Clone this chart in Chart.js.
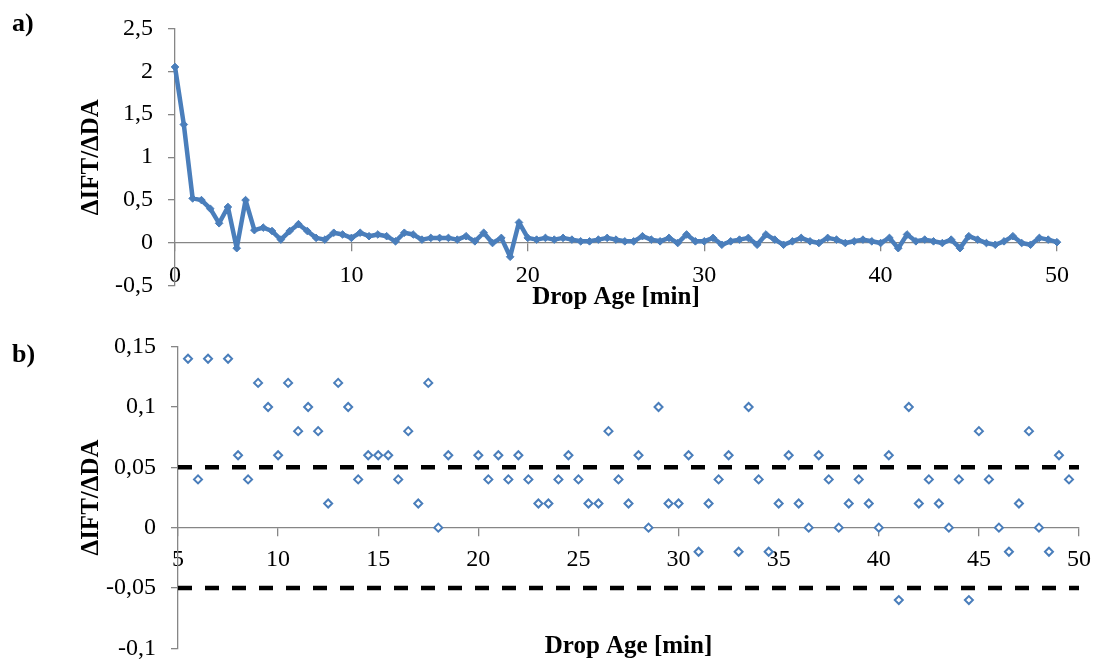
<!DOCTYPE html>
<html>
<head>
<meta charset="utf-8">
<script src="https://cdn.jsdelivr.net/npm/chart.js@4"></script>
<style>
  html, body { margin: 0; padding: 0; background: #fff; overflow: hidden; width: 1101px; height: 662px; }
  .panel { position: absolute; left: 0; width: 1101px; }
  #wrapA { top: 0; height: 330px; }
  #wrapB { top: 330px; height: 340px; }
  .tag { position: absolute; left: 12px; font: bold 26px 'Liberation Serif', 'Times New Roman', serif; line-height: 26px; color: #000; }
</style>
</head>
<body>
<div class="panel" id="wrapA"><canvas id="chartA" width="1101" height="330"></canvas></div>
<div class="panel" id="wrapB"><canvas id="chartB" width="1101" height="340"></canvas></div>
<div class="tag" style="top:10px">a)</div>
<div class="tag" style="top:341px">b)</div>
<script>
// Drop age [min] and the derivative of interfacial tension with respect to drop age
const dropAge = [
  0, 0.5, 1, 1.5, 2, 2.5, 3, 3.5, 4, 4.5,
  5, 5.5, 6, 6.5, 7, 7.5, 8, 8.5, 9, 9.5,
  10, 10.5, 11, 11.5, 12, 12.5, 13, 13.5, 14, 14.5,
  15, 15.5, 16, 16.5, 17, 17.5, 18, 18.5, 19, 19.5,
  20, 20.5, 21, 21.5, 22, 22.5, 23, 23.5, 24, 24.5,
  25, 25.5, 26, 26.5, 27, 27.5, 28, 28.5, 29, 29.5,
  30, 30.5, 31, 31.5, 32, 32.5, 33, 33.5, 34, 34.5,
  35, 35.5, 36, 36.5, 37, 37.5, 38, 38.5, 39, 39.5,
  40, 40.5, 41, 41.5, 42, 42.5, 43, 43.5, 44, 44.5,
  45, 45.5, 46, 46.5, 47, 47.5, 48, 48.5, 49, 49.5,
  50
];
const dIftDda = [
  2.05, 1.38, 0.52, 0.50, 0.40, 0.23, 0.42, -0.06, 0.50, 0.15,
  0.18, 0.14, 0.04, 0.14, 0.22, 0.14, 0.06, 0.04, 0.12, 0.10,
  0.06, 0.12, 0.08, 0.10, 0.08, 0.02, 0.12, 0.10, 0.04, 0.06,
  0.06, 0.06, 0.04, 0.08, 0.02, 0.12, 0.00, 0.06, -0.16, 0.24,
  0.06, 0.04, 0.06, 0.04, 0.06, 0.04, 0.02, 0.02, 0.04, 0.06,
  0.04, 0.02, 0.02, 0.08, 0.04, 0.02, 0.06, 0.00, 0.10, 0.02,
  0.02, 0.06, -0.02, 0.02, 0.04, 0.06, -0.02, 0.10, 0.04, -0.02,
  0.02, 0.06, 0.02, 0.00, 0.06, 0.04, 0.00, 0.02, 0.04, 0.02,
  0.00, 0.06, -0.06, 0.10, 0.02, 0.04, 0.02, 0.00, 0.04, -0.06,
  0.08, 0.04, 0.00, -0.02, 0.02, 0.08, 0.00, -0.02, 0.06, 0.04,
  0.01
];

// Detail window for panel b and its tolerance band
const detailFrom = 5;
const detailTo = 50;
const bandAge = [5, 50];
const bandUpper = [0.05, 0.05];
const bandLower = [-0.05, -0.05];

// Axis ticks
const xTicksA = [0, 10, 20, 30, 40, 50];
const yTicksA = [-0.5, 0, 0.5, 1, 1.5, 2, 2.5];
const xTicksB = [5, 10, 15, 20, 25, 30, 35, 40, 45, 50];
const yTicksB = [-0.1, -0.05, 0, 0.05, 0.1, 0.15];

const xTitle = 'Drop Age [min]';
const yTitle = 'ΔIFT/ΔDA';

const SERIF = "'Liberation Serif', 'Times New Roman', serif";
const BLUE = '#4a7ebb';
const AXIS = '#868686';

Chart.defaults.font.family = SERIF;
Chart.defaults.color = '#000';

const comma = v => String(Number(v.toFixed(3))).replace('.', ',');
const fixedTicks = list => scale => { scale.ticks = list.map(v => ({ value: v })); };

function xAxis(min, max, ticks, titleHeight) {
  return {
    type: 'linear', min, max,
    position: { y: 0 },
    afterBuildTicks: fixedTicks(ticks),
    afterFit: s => { s.height = titleHeight; },
    grid: { drawOnChartArea: false, drawTicks: true, tickLength: 8, color: AXIS, lineWidth: 1.3 },
    border: { display: true, color: AXIS, width: 1.3 },
    ticks: { font: { size: 24 }, color: '#000', padding: 10, maxRotation: 0, autoSkip: false, callback: v => comma(v) },
    title: { display: true, text: xTitle, font: { size: 25, weight: 'bold' }, color: '#000', padding: 0 }
  };
}

function yAxis(min, max, ticks, width) {
  return {
    type: 'linear', min, max,
    position: 'left',
    afterBuildTicks: fixedTicks(ticks),
    afterFit: s => {
      s.width = width;
      // the end labels only need half their own height above/below the plot
      s.paddingTop = 14;
      s.paddingBottom = 14;
    },
    grid: { drawOnChartArea: false, drawTicks: true, tickLength: 7, color: AXIS, lineWidth: 1.3 },
    border: { display: true, color: AXIS, width: 1.3 },
    ticks: { font: { size: 24 }, color: '#000', padding: 15, callback: v => comma(v) },
    title: { display: true, text: yTitle, font: { size: 25, weight: 'bold' }, color: '#000', padding: { top: 77, bottom: 0 } }
  };
}

const common = {
  responsive: false,
  animation: false,
  devicePixelRatio: 1,
  plugins: { legend: { display: false }, tooltip: { enabled: false } },
  events: []
};

// a) full record
new Chart(document.getElementById('chartA'), {
  type: 'scatter',
  data: {
    datasets: [{
      data: dropAge.map((x, i) => ({ x, y: dIftDda[i] })),
      showLine: true,
      borderColor: BLUE,
      borderWidth: 4.5,
      borderJoinStyle: 'round',
      borderCapStyle: 'round',
      tension: 0,
      pointStyle: 'rectRot',
      pointRadius: 3.8,
      pointBackgroundColor: BLUE,
      pointBorderColor: BLUE,
      pointBorderWidth: 1,
      clip: false
    }]
  },
  options: {
    ...common,
    layout: { padding: { left: 0, right: 44, top: 28.3, bottom: 44 } },
    scales: {
      x: xAxis(0, 50, xTicksA, 69),
      y: yAxis(-0.5, 2.5, yTicksA, 175)
    }
  }
});

// b) detail after the first minutes, with the ±0.05 band
const detail = dropAge
  .map((x, i) => ({ x, y: dIftDda[i] }))
  .filter(p => p.x > detailFrom && p.x < detailTo);

const bandStyle = {
  showLine: true,
  borderColor: '#000',
  borderWidth: 4.5,
  borderDash: [14, 13],
  borderCapStyle: 'butt',
  pointRadius: 0,
  tension: 0
};

new Chart(document.getElementById('chartB'), {
  type: 'scatter',
  data: {
    datasets: [
      { ...bandStyle, data: bandAge.map((x, i) => ({ x, y: bandUpper[i] })) },
      { ...bandStyle, data: bandAge.map((x, i) => ({ x, y: bandLower[i] })) },
      {
        data: detail,
        showLine: false,
        pointStyle: 'rectRot',
        pointRadius: 4,
        pointBorderWidth: 2,
        pointBorderColor: BLUE,
        pointBackgroundColor: '#fff'
      }
    ]
  },
  options: {
    ...common,
    layout: { padding: { left: 0, right: 16, top: 16.7, bottom: 21.7 } },
    scales: {
      x: xAxis(5, 50, xTicksB, 133.7),
      y: yAxis(-0.1, 0.15, yTicksB, 178)
    }
  }
});
</script>
</body>
</html>
